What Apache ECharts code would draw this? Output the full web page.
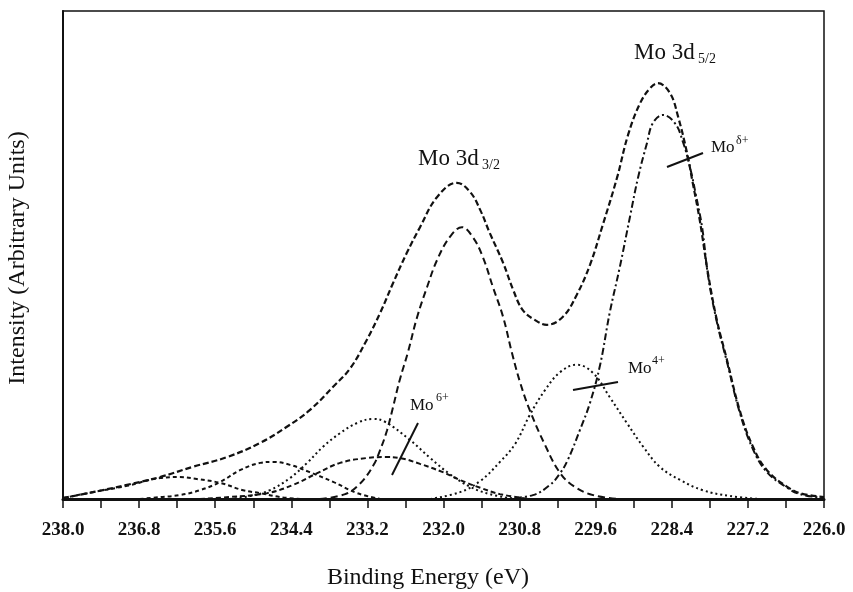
<!DOCTYPE html>
<html>
<head>
<meta charset="utf-8">
<script src="https://cdn.jsdelivr.net/npm/echarts@6/dist/echarts.min.js"></script>
<style>
  html, body { margin: 0; padding: 0; background: #fff; }
  #chart { width: 853px; height: 592px; }
</style>
</head>
<body>
<div id="chart"></div>
<script>
/* XPS Mo 3d spectrum with fitted components */
const ORIGIN = 238; // left end of binding energy axis (eV)

// tick values of the binding-energy axis
const tickLabels = ["238.0", "236.8", "235.6", "234.4", "233.2", "232.0", "230.8", "229.6", "228.4", "227.2", "226.0"];

// envelope (measured spectrum)
const envE = [238.00, 237.53, 236.99, 236.47, 235.95, 235.41, 234.89, 234.47, 234.11, 233.74,
  233.47, 233.21, 233.00, 232.80, 232.58, 232.37, 232.10, 231.79, 231.58, 231.42,
  231.27, 231.06, 230.90, 230.75, 230.56, 230.37, 230.12, 229.90, 229.69, 229.49,
  229.26, 229.09, 228.90, 228.74, 228.62, 228.43, 228.30, 228.16, 228.07, 227.96,
  227.83, 227.69, 227.53, 227.33, 227.12, 226.90, 226.58, 226.38, 226.00];
const envI = [0.2, 1.4, 2.9, 4.5, 6.6, 8.6, 11.5, 14.8, 18.2, 23.0,
  26.8, 32.6, 38.1, 44.1, 50.4, 55.7, 61.9, 64.8, 62.9, 59.2,
  54.5, 48.4, 42.8, 38.7, 36.7, 35.7, 37.3, 41.8, 48.0, 56.1,
  66.0, 74.6, 81.1, 84.2, 85.2, 83.2, 78.3, 70.9, 64.8, 57.2,
  46.3, 36.7, 28.5, 18.2, 10.7, 5.9, 2.5, 1.2, 0.4];

// Mo d+ 3d5/2
const dp52E = [231.11, 230.59, 230.32, 230.16, 230.04, 229.85, 229.69, 229.53, 229.38, 229.22,
  229.06, 228.93, 228.79, 228.70, 228.54, 228.35, 228.22, 228.11, 228.02, 227.92,
  227.83, 227.69, 227.53, 227.33, 227.12, 226.90, 226.58, 226.38, 226.00];
const dp52I = [0, 0.8, 2.9, 5.3, 8.0, 14.1, 19.7, 27.5, 38.1, 47.5,
  57.8, 66.0, 73.0, 77.0, 78.7, 77.0, 73.0, 67.8, 62.3, 55.5,
  45.9, 36.3, 28.1, 17.8, 10.2, 5.5, 2.3, 1.0, 0.2];

// Mo d+ 3d3/2
const dp32E = [233.95, 233.55, 233.32, 233.11, 233.00, 232.89, 232.80, 232.69, 232.56, 232.42,
  232.26, 232.10, 231.90, 231.71, 231.54, 231.38, 231.22, 231.06, 230.92, 230.79,
  230.64, 230.40, 230.16, 229.93, 229.64, 229.22];
const dp32I = [0, 1.0, 3.1, 6.8, 10.0, 14.1, 18.6, 24.4, 30.1, 37.1,
  43.4, 49.0, 53.7, 55.7, 53.7, 49.6, 43.4, 37.3, 29.9, 23.8,
  18.2, 11.1, 5.3, 2.5, 0.8, 0];

// Mo4+ 3d5/2
const m4a52E = [232.21, 231.74, 231.42, 231.11, 230.87, 230.64, 230.40, 230.16, 229.90, 229.64,
  229.38, 229.11, 228.85, 228.59, 228.27, 227.91, 227.48, 227.01];
const m4a52I = [0, 1.4, 3.7, 7.6, 11.3, 17.2, 22.3, 26.0, 27.5, 25.8,
  20.9, 15.6, 10.7, 6.6, 3.9, 1.8, 0.6, 0];

// Mo4+ 3d3/2
const m4a32E = [235.37, 235.05, 234.74, 234.42, 234.15, 233.90, 233.63, 233.36, 233.11, 232.92,
  232.53, 232.21, 231.90, 231.58, 231.27, 230.87];
const m4a32I = [0, 0.6, 1.8, 4.3, 7.4, 10.7, 13.5, 15.6, 16.4, 15.8,
  12.1, 8.4, 5.1, 2.5, 1.0, 0];

// Mo6+ 3d5/2
const m6a52E = [235.84, 235.37, 234.78, 234.37, 233.99, 233.63, 233.21, 232.92, 232.69, 232.37,
  232.01, 231.74, 231.42, 231.11, 230.64];
const m6a52I = [0, 0.4, 1.2, 2.9, 5.3, 7.4, 8.4, 8.6, 8.4, 7.2,
  5.5, 3.9, 2.3, 1.0, 0];

// small component near 234.7 eV
const midE = [236.79, 236.47, 236.16, 235.84, 235.52, 235.21, 234.89, 234.69, 234.42, 234.11,
  233.74, 233.36, 233.00];
const midI = [0, 0.4, 0.8, 1.8, 3.5, 5.9, 7.4, 7.6, 7.0, 5.5,
  3.5, 1.2, 0];

// Mo6+ 3d3/2
const m6a32E = [238.00, 237.53, 236.99, 236.47, 236.16, 235.89, 235.52, 235.16, 234.89, 234.58, 234.26];
const m6a32I = [0.2, 1.4, 2.7, 4.3, 4.5, 4.1, 3.3, 1.8, 1.2, 0.4, 0];

const SERIF = "'Liberation Serif', 'Times New Roman', serif";
const chart = echarts.init(document.getElementById("chart"));

function toPoints(es, is) {
  return es.map((e, i) => [ORIGIN - e, is[i]]);
}

function curve(name, es, is, dash, width) {
  return {
    name: name,
    type: "line",
    data: toPoints(es, is),
    smooth: 0.4,
    showSymbol: false,
    lineStyle: { color: "#111", width: width || 2, type: dash }
  };
}

function text(x, y, str, size, align) {
  return {
    type: "text",
    x: x,
    y: y,
    style: {
      text: str,
      fontFamily: SERIF,
      fontSize: size,
      fill: "#111",
      align: align || "left",
      verticalAlign: "middle"
    }
  };
}

function stroke(x1, y1, x2, y2) {
  return {
    type: "line",
    shape: { x1: x1, y1: y1, x2: x2, y2: y2 },
    style: { stroke: "#111", lineWidth: 2 }
  };
}

chart.setOption({
  animation: false,
  backgroundColor: "#fff",
  grid: {
    left: 63, top: 11, width: 761, height: 488,
    show: true, borderColor: "#111", borderWidth: 1.5
  },
  xAxis: {
    type: "value",
    min: 0, max: 12, interval: 0.6,
    axisLine: { lineStyle: { color: "#111", width: 3 } },
    axisTick: { length: 9, lineStyle: { color: "#111", width: 1.5 } },
    splitLine: { show: false },
    axisLabel: {
      margin: 22,
      color: "#111",
      fontFamily: SERIF,
      fontWeight: "bold",
      fontSize: 19,
      formatter: (v) => {
        const k = Math.round(v / 0.6);
        return k % 2 === 0 ? tickLabels[k / 2] : "";
      }
    }
  },
  yAxis: {
    type: "value",
    min: 0, max: 100,
    axisLine: { show: true, lineStyle: { color: "#111", width: 2 } },
    axisTick: { show: false },
    axisLabel: { show: false },
    splitLine: { show: false }
  },
  series: [
    curve("envelope", envE, envI, [6, 3], 2.2),
    curve("Mo d+ 3d5/2", dp52E, dp52I, [7, 3, 2, 3]),
    curve("Mo d+ 3d3/2", dp32E, dp32I, [7, 4]),
    curve("Mo4+ 3d5/2", m4a52E, m4a52I, [2, 3]),
    curve("Mo4+ 3d3/2", m4a32E, m4a32I, [2, 3]),
    curve("Mo6+ 3d5/2", m6a52E, m6a52I, [5, 3]),
    curve("component 234.7", midE, midI, [4, 3]),
    curve("Mo6+ 3d3/2", m6a32E, m6a32I, [4, 3])
  ],
  graphic: [
    text(428, 578, "Binding Energy (eV)", 24, "center"),
    {
      type: "text",
      x: 18, y: 258,
      rotation: Math.PI / 2,
      style: {
        text: "Intensity (Arbitrary Units)",
        fontFamily: SERIF, fontSize: 24, fill: "#111",
        align: "center", verticalAlign: "middle"
      }
    },
    text(634, 53, "Mo 3d", 23),
    text(698, 59, "5/2", 14),
    text(418, 159, "Mo 3d", 23),
    text(482, 165, "3/2", 14),
    text(711, 148, "Mo", 17),
    text(736, 141, "δ+", 12),
    stroke(667, 167, 703, 153),
    text(628, 369, "Mo", 17),
    text(652, 361, "4+", 12),
    stroke(573, 390, 618, 382),
    text(410, 406, "Mo", 17),
    text(436, 398, "6+", 12),
    stroke(418, 423, 392, 475)
  ]
});
</script>
</body>
</html>
